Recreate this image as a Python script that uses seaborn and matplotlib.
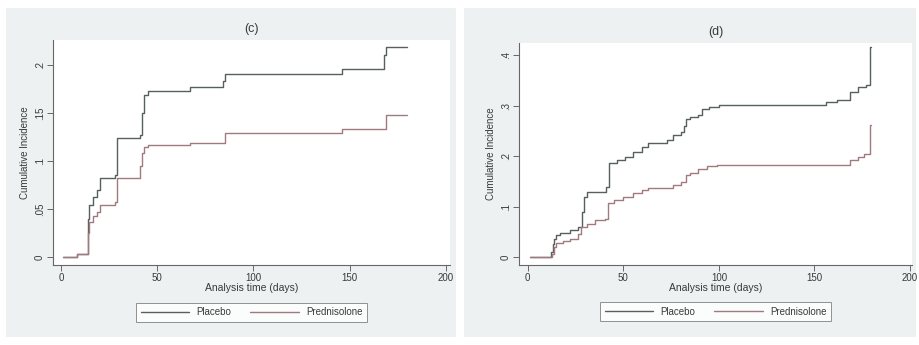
import matplotlib
matplotlib.use("Agg")
import matplotlib.pyplot as plt
from matplotlib.patches import Rectangle
import seaborn as sns
import pandas as pd

# ---- data ----
groups = ["Placebo", "Prednisolone"]

c_placebo_t = [1, 8.5, 14, 14.5, 16.5, 18.5, 20, 28, 29, 41, 42, 43, 45, 67, 84, 85, 146, 168, 169, 180]
c_placebo_y = [0, 0.0035, 0.04, 0.054, 0.063, 0.07, 0.082, 0.085, 0.124, 0.127, 0.15, 0.169, 0.173, 0.177, 0.183, 0.191, 0.196, 0.21, 0.219, 0.219]
c_pred_t = [1, 8.5, 14, 14.5, 16.5, 18.5, 20, 28, 29.3, 41, 42, 43, 45, 67, 85, 146, 169, 180]
c_pred_y = [0, 0.0035, 0.025, 0.0365, 0.043, 0.047, 0.054, 0.057, 0.082, 0.095, 0.108, 0.115, 0.117, 0.119, 0.129, 0.133, 0.148, 0.148]

d_placebo_t = [1, 12, 13, 14, 15, 17, 22, 26.5, 28.5, 29.5, 31, 41, 42.5, 46.5, 51, 55, 60, 63, 73, 76, 80, 82, 83, 85, 89, 91, 95, 100, 156, 162, 168.6, 173, 177, 179, 179.3]
d_placebo_y = [0, 0.01, 0.025, 0.035, 0.043, 0.047, 0.053, 0.06, 0.09, 0.119, 0.129, 0.139, 0.186, 0.192, 0.198, 0.208, 0.218, 0.225, 0.231, 0.241, 0.248, 0.26, 0.274, 0.278, 0.281, 0.294, 0.298, 0.301, 0.307, 0.311, 0.327, 0.336, 0.34, 0.417, 0.417]
d_pred_t = [1, 12.5, 13.5, 15, 18.5, 22, 26.5, 28, 31, 35, 40.5, 42, 45, 50, 55, 60, 63, 76, 80, 83, 85, 89, 93.6, 99, 168.6, 173, 176, 179, 179.3]
d_pred_y = [0, 0.006, 0.02, 0.028, 0.032, 0.036, 0.046, 0.06, 0.066, 0.073, 0.076, 0.106, 0.112, 0.119, 0.126, 0.132, 0.136, 0.142, 0.149, 0.162, 0.167, 0.174, 0.18, 0.183, 0.193, 0.198, 0.205, 0.261, 0.261]

panel_titles = ["(c)", "(d)"]
x_ticks = [0, 50, 100, 150, 200]
c_yticks = [0, 0.05, 0.1, 0.15, 0.2]
c_yticklabels = ["0", ".05", ".1", ".15", ".2"]
d_yticks = [0, 0.1, 0.2, 0.3, 0.4]
d_yticklabels = ["0", ".1", ".2", ".3", ".4"]


def frame(pt, py, rt, ry):
    a = pd.DataFrame({"time": pt, "ci": py, "group": groups[0]})
    b = pd.DataFrame({"time": rt, "ci": ry, "group": groups[1]})
    return pd.concat([a, b], ignore_index=True)


df_c = frame(c_placebo_t, c_placebo_y, c_pred_t, c_pred_y)
df_d = frame(d_placebo_t, d_placebo_y, d_pred_t, d_pred_y)

sns.set_style("white")
plt.rcParams["font.family"] = ["Liberation Sans", "DejaVu Sans"]

W, H = 920, 345
fig = plt.figure(figsize=(9.2, 3.45), dpi=100)
fig.patch.set_facecolor("white")

bg = "#edf1f1"
for x0, x1 in [(6, 456), (464, 916)]:
    fig.add_artist(Rectangle((x0 / W, 1 - 337 / H), (x1 - x0) / W, (337 - 8) / H,
                             transform=fig.transFigure, facecolor=bg, edgecolor="none", zorder=-10))

palette = {"Placebo": "#56605d", "Prednisolone": "#a07a7e"}
tc = "#3a3a3a"

specs = [
    dict(df=df_c, rect=(53, 450, 40, 265), xlim=(-4.16, 202.1), ylim=(-0.0083, 0.226),
         yt=c_yticks, ytl=c_yticklabels, title=panel_titles[0]),
    dict(df=df_d, rect=(519, 912, 43, 265), xlim=(-4.55, 201.0), ylim=(-0.0159, 0.424),
         yt=d_yticks, ytl=d_yticklabels, title=panel_titles[1]),
]

for s in specs:
    x0, x1, y0, y1 = s["rect"]
    ax = fig.add_axes([x0 / W, 1 - y1 / H, (x1 - x0) / W, (y1 - y0) / H])
    ax.set_facecolor("white")
    sns.lineplot(data=s["df"], x="time", y="ci", hue="group", palette=palette,
                 estimator=None, sort=False, drawstyle="steps-post", linewidth=1.0, ax=ax)
    ax.set_xlim(*s["xlim"])
    ax.set_ylim(*s["ylim"])
    ax.set_xticks(x_ticks)
    ax.set_xticklabels([str(v) for v in x_ticks], fontsize=7, color=tc)
    ax.set_yticks(s["yt"])
    ax.set_yticklabels(s["ytl"], fontsize=7, color=tc, rotation=90, va="center")
    ax.tick_params(axis="both", direction="out", length=4, width=0.7, colors="#666666",
                   labelcolor=tc, pad=2, bottom=True, left=True)
    for sp in ["top", "right"]:
        ax.spines[sp].set_visible(False)
    for sp in ["left", "bottom"]:
        ax.spines[sp].set_color("#666666")
        ax.spines[sp].set_linewidth(0.8)
    ax.set_xlabel("Analysis time (days)", fontsize=7.5, color=tc, labelpad=0)
    ax.set_ylabel("Cumulative Incidence", fontsize=7, color=tc, labelpad=3)
    ax.set_title(s["title"], fontsize=9, color=tc, pad=6)
    handles, labels = ax.get_legend_handles_labels()
    ax.legend(handles=handles, labels=labels, loc="center", bbox_to_anchor=(0.5, -0.21),
              ncol=2, fontsize=7, frameon=True, fancybox=False, edgecolor="#777777",
              handlelength=5.0, columnspacing=2.0, borderpad=0.45, handletextpad=0.7)
    leg = ax.get_legend()
    leg.get_frame().set_linewidth(0.7)
    for t in leg.get_texts():
        t.set_color(tc)

fig.savefig("out.png", dpi=100, facecolor=fig.get_facecolor())
